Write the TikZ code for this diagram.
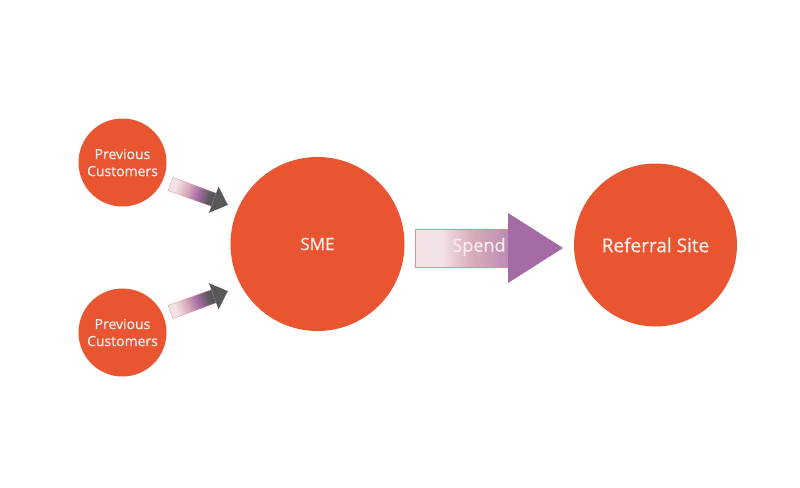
\documentclass[tikz,border=0pt]{standalone}
\usepackage{fontspec}
\setmainfont{Open Sans}
\newfontfamily\labelfont{Open Sans}[FakeBold=0.8]
\definecolor{smeorange}{HTML}{E85530}
\definecolor{fadepale}{HTML}{F3E3E7}
\definecolor{fadepink}{HTML}{D9ADB9}
\definecolor{fademauve}{HTML}{BC8BB4}
\definecolor{fadepurple}{HTML}{A56BA4}
\definecolor{fadegray}{HTML}{58585A}
\definecolor{fadeedge}{HTML}{DC9096}
\definecolor{labelwhite}{HTML}{F7ECEC}
\pgfdeclarehorizontalshading{smallfade}{100bp}{color(0bp)=(fadepale); color(31bp)=(fadepale); color(44bp)=(fadepink); color(57bp)=(fadepurple); color(70bp)=(fadegray); color(100bp)=(fadegray)}
\pgfdeclarehorizontalshading{bigfade}{100bp}{color(0bp)=(fadepale); color(39bp)=(fadepale); color(55bp)=(fadepink); color(75bp)=(fademauve); color(100bp)=(fademauve)}
\tikzset{
	party/.style={
		shape = circle,
		inner sep = 0pt,
		fill = smeorange,
		text = labelwhite,
		align = center
	},
	small/.style={
		party,
		minimum size = 88pt,
		font = \labelfont\fontsize{14}{17}\selectfont
	},
	shaftfade/.style={
		shading = smallfade,
		draw = fadeedge,
		line width = 0.3pt
	},
}

\begin{document}
\begin{tikzpicture}[x=1pt, y=-1pt]
    \useasboundingbox (0,0) rectangle (800,487);
    \node[party, minimum size=174pt, font=\labelfont\fontsize{17}{20}\selectfont] (sme) at (317.5,244) {SME};
    \node[party, minimum size=163pt, font=\labelfont\fontsize{19}{23}\selectfont] (referral) at (655.5,245) {Referral Site};
    \foreach \y/\t/\n/\a in {162.5/184/top/-20, 332.5/312/bottom/20}{
      \node[small] (prev\n) at (122.5,\y) {Previous\\Customers};
      \coordinate (tail\n) at (170.5,\t);
      \begin{scope}[transform canvas={shift={(tail\n)}, rotate=\a}]
        \shade[shaftfade] (0,-7) rectangle (46,7);
        \fill[fadegray] (46,-14) -- (61,0) -- (46,14) -- cycle;
      \end{scope}
    }
    \coordinate (spendtail) at (415,248);
    \shade[shaftfade, shading=bigfade] (spendtail) ++(0,-19) rectangle ++(93,38);
    \fill[fadepurple] (spendtail) ++(93,-35) -- ++(55,35) -- ++(-55,35) -- cycle;
    \node[text=labelwhite, font=\labelfont\fontsize{18}{22}\selectfont] (spend) at (479,247) {Spend};
  \end{tikzpicture}
\end{document}
